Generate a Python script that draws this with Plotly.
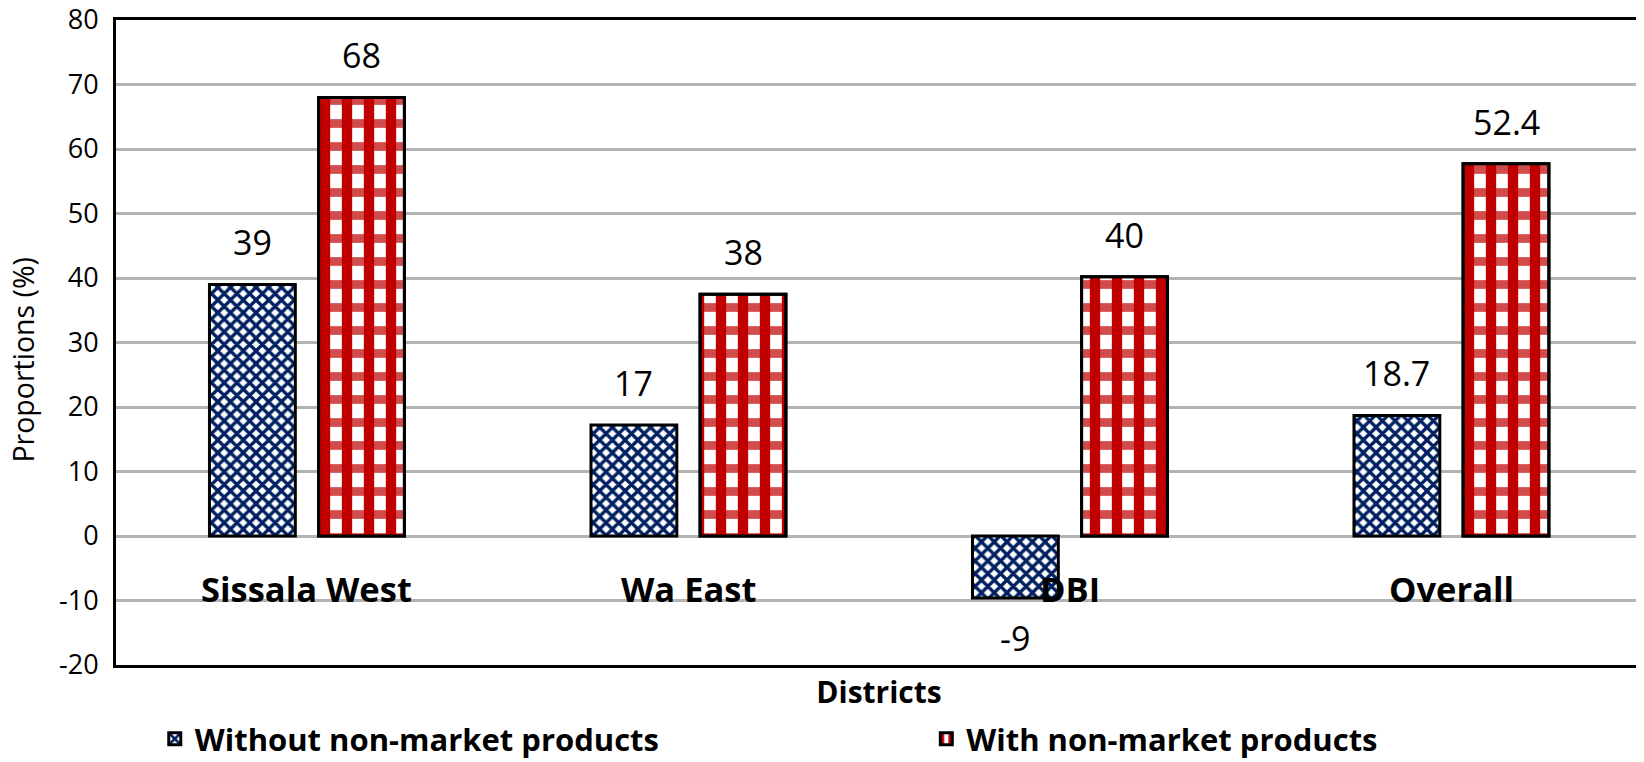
import plotly.graph_objects as go

categories = ["Sissala West", "Wa East", "DBI", "Overall"]
without_vals = [39, 17.2, -9.6, 18.7]
with_vals = [68, 37.5, 40.2, 57.7]
without_labels = ["39", "17", "-9", "18.7"]
with_labels = ["68", "38", "40", "52.4"]
series_names = ["Without non-market products", "With non-market products"]
y_ticks = list(range(-20, 81, 10))
y_ticktext = [str(v) for v in y_ticks]

BLUE = "#002060"
RED = "#C00000"
FONT = "Open Sans"
BW = 0.225
OFF_B = -0.255
OFF_R = 0.031

fig = go.Figure()
fig.add_trace(go.Bar(
    x=categories, y=without_vals, name=series_names[0], legend="legend",
    offset=OFF_B, width=BW,
    marker=dict(color="white", line=dict(color="black", width=3),
                pattern=dict(shape="x", size=9, solidity=0.6,
                             fgcolor=BLUE, bgcolor="white", fillmode="replace")),
))
fig.add_trace(go.Bar(
    x=categories, y=with_vals, name=series_names[1], legend="legend2",
    offset=OFF_R, width=BW,
    marker=dict(color="white", line=dict(color="black", width=3),
                pattern=dict(shape="|", size=22, solidity=0.47,
                             fgcolor=RED, bgcolor="white", fillmode="replace")),
))
fig.add_trace(go.Bar(
    x=categories, y=with_vals, name=series_names[1], showlegend=False,
    offset=OFF_R, width=BW,
    marker=dict(color="rgba(0,0,0,0)", line=dict(color="black", width=3),
                pattern=dict(shape="-", size=23, solidity=0.38, fgopacity=0.7,
                             fgcolor=RED, bgcolor="rgba(0,0,0,0)", fillmode="overlay")),
    hoverinfo="skip",
))

ann = []
cw = 1527 / 4.0
for cat, v, t in zip(categories, without_vals, without_labels):
    ann.append(dict(x=cat, y=v, xref="x", yref="y", text=t, showarrow=False,
                    xshift=(OFF_B + BW / 2) * cw,
                    yanchor="bottom" if v >= 0 else "top",
                    yshift=17 if v >= 0 else -15,
                    font=dict(family=FONT, size=34, color="black")))
for cat, v, t in zip(categories, with_vals, with_labels):
    ann.append(dict(x=cat, y=v, xref="x", yref="y", text=t, showarrow=False,
                    xshift=(OFF_R + BW / 2) * cw,
                    yanchor="bottom", yshift=17,
                    font=dict(family=FONT, size=34, color="black")))
for cat in categories:
    ann.append(dict(x=cat, y=0, xref="x", yref="y", text="<b>%s</b>" % cat,
                    showarrow=False, yanchor="middle", yshift=-52,
                    font=dict(family=FONT, size=34.5, color="black")))
# y-axis title
ann.append(dict(x=0, y=0.4735, xref="paper", yref="paper", text="Proportions (%)",
                textangle=-90, showarrow=False, xanchor="center", yanchor="middle",
                xshift=-93, font=dict(family=FONT, size=28.5, color="black")))

legend_common = dict(orientation="h", xanchor="left", y=-0.115, yanchor="middle",
                     font=dict(family=FONT, size=31, color="black", weight="bold"),
                     bgcolor="rgba(0,0,0,0)")

# page body has a default margin, so the figure is offset slightly
fig.update_layout(
    width=1636, height=754,
    margin=dict(l=108, r=2, t=12, b=97, autoexpand=False),
    barmode="overlay",
    paper_bgcolor="white", plot_bgcolor="white",
    font=dict(family=FONT, color="black"),
    annotations=ann,
    showlegend=True,
    legend=dict(x=0.0254, **legend_common),
    legend2=dict(x=0.531, **legend_common),
    xaxis=dict(showticklabels=False, showgrid=False, ticks="", automargin=False,
               showline=True, linecolor="black", linewidth=3, mirror=True,
               title=dict(text="<b>Districts</b>", standoff=15,
                          font=dict(family=FONT, size=30, color="black"))),
    yaxis=dict(range=[-20, 80], tickvals=y_ticks, ticktext=y_ticktext, ticks="",
               automargin=False, ticklabeloverflow="allow",
               showgrid=True, gridcolor="#b3b3b3", gridwidth=3,
               zeroline=True, zerolinecolor="#b3b3b3", zerolinewidth=3,
               showline=True, linecolor="black", linewidth=3, mirror=True,
               ticklabelstandoff=9,
               tickfont=dict(family=FONT, size=27, color="black")),
)

fig.write_html("out.html")
